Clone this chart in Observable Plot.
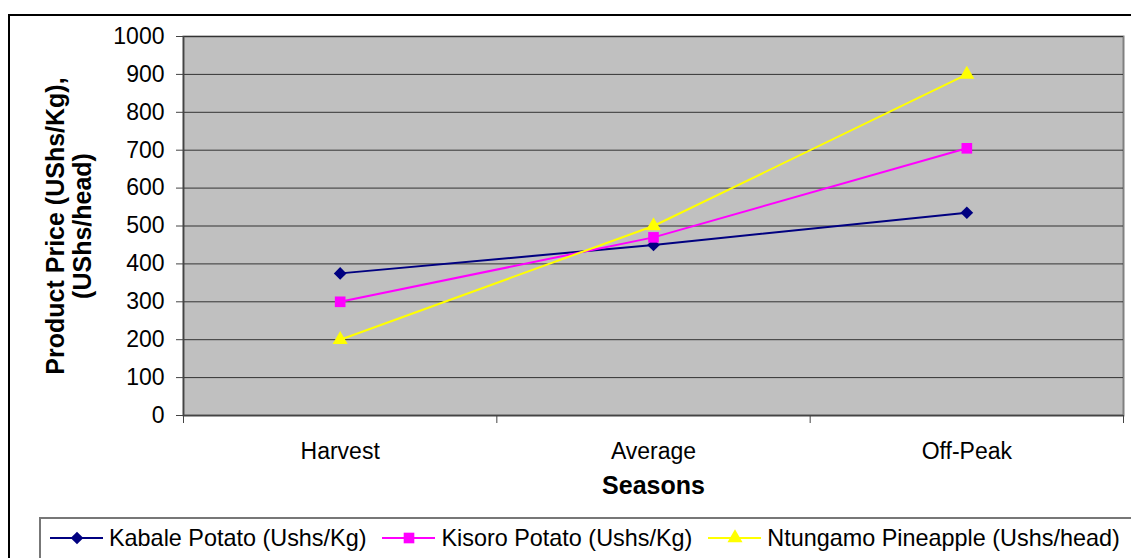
<!DOCTYPE html>
<html>
<head>
<meta charset="utf-8">
<script src="https://cdn.jsdelivr.net/npm/d3@7"></script>
<script src="https://cdn.jsdelivr.net/npm/@observablehq/plot@0.6"></script>
<style>
  html, body { margin: 0; padding: 0; background: #fff; }
  #wrap { position: relative; width: 1131px; height: 558px; overflow: hidden; background: #fff; font-family: "Liberation Sans", Arial, sans-serif; }
  #frame { position: absolute; left: 8px; top: 14px; width: 1200px; height: 600px; border: 2.5px solid #000; }
  #chart { position: absolute; left: 0; top: 0; }
  #legend { position: absolute; left: 39px; top: 517px; width: 1200px; height: 60px; box-sizing: border-box; border: 2px solid #777; background: #fff; font-size: 23.4px; color: #000; display: flex; align-items: flex-start; padding-left: 9px; padding-top: 2px; }
  .item { display: flex; align-items: center; height: 34px; margin-right: 16px; white-space: nowrap; }
  .item svg { margin-right: 6px; }
</style>
</head>
<body>
<div id="wrap">
  <div id="frame"></div>
  <div id="chart"></div>
  <div id="legend"></div>
</div>
<script>
const categories = ["Harvest", "Average", "Off-Peak"];
const seriesNames = ["Kabale Potato (Ushs/Kg)", "Kisoro Potato (Ushs/Kg)", "Ntungamo Pineapple (Ushs/head)"];
const kabale = [375, 450, 535];
const kisoro = [300, 470, 705];
const ntungamo = [200, 500, 900];
const seriesColors = ["#000080", "#FF00FF", "#FFFF00"];
const seriesSymbols = ["diamond2", "square", "triangle"];
const seriesR = [5.7, 6, 5.6];
const yTicks = [0, 100, 200, 300, 400, 500, 600, 700, 800, 900, 1000];
const xTitle = "Seasons";
const yTitle = "Product Price (UShs/Kg),\n(UShs/head)";

const seriesValues = [kabale, kisoro, ntungamo];
const tables = seriesValues.map((vals, s) =>
  vals.map((v, i) => ({series: seriesNames[s], pos: i + 0.5, cat: categories[i], value: v}))
);
const centers = categories.map((c, i) => i + 0.5);
const boundaries = d3.range(categories.length + 1);

const marks = [
  Plot.frame({fill: "#C0C0C0", stroke: "#808080", strokeWidth: 2}),
  Plot.gridY(yTicks, {stroke: "#333", strokeOpacity: 1, strokeWidth: 1}),
  Plot.axisY(yTicks, {tickSize: 7, tickPadding: 12, stroke: "#444", fontSize: 23, tickFormat: d => String(d), label: null}),
  Plot.axisX(boundaries, {tickSize: 8, tickFormat: () => "", stroke: "#444", label: null}),
  Plot.axisX(centers, {tickSize: 0, tickPadding: 27, fontSize: 23, tickFormat: p => categories[Math.round(p - 0.5)], label: null}),
  Plot.ruleY([0], {stroke: "#444", strokeWidth: 1.5}),
  Plot.ruleX([0], {stroke: "#444", strokeWidth: 1.5})
];
tables.forEach((t, s) => {
  marks.push(Plot.line(t, {x: "pos", y: "value", stroke: seriesColors[s], strokeWidth: 2}));
});
tables.forEach((t, s) => {
  marks.push(Plot.dot(t, {x: "pos", y: "value", fill: seriesColors[s], stroke: "none", symbol: seriesSymbols[s], r: seriesR[s]}));
});
marks.push(Plot.text([xTitle], {frameAnchor: "bottom", dy: 70, lineAnchor: "middle", textAnchor: "middle", fontWeight: "bold", fontSize: 25}));
marks.push(Plot.text([yTitle], {frameAnchor: "left", dx: -115, rotate: -90, lineAnchor: "middle", textAnchor: "middle", fontWeight: "bold", fontSize: 25, lineHeight: 1.1}));

const chart = Plot.plot({
  width: 1131,
  height: 505,
  marginLeft: 183,
  marginRight: 8,
  marginTop: 36,
  marginBottom: 90,
  x: {domain: [0, categories.length], axis: null, label: null},
  y: {domain: [0, 1000], axis: null, label: null},
  style: {fontFamily: "'Liberation Sans', Arial, sans-serif", fontSize: "23px", background: "transparent", color: "#000", overflow: "visible"},
  marks
});
document.getElementById("chart").appendChild(chart);

// legend
const symbolMap = {diamond2: d3.symbolDiamond2, square: d3.symbolSquare, triangle: d3.symbolTriangle};
const legend = d3.select("#legend");
seriesNames.forEach((name, s) => {
  const item = legend.append("div").attr("class", "item");
  const svg = item.append("svg").attr("width", 53).attr("height", 20);
  svg.append("line").attr("x1", 0).attr("x2", 53).attr("y1", 10).attr("y2", 10)
    .attr("stroke", seriesColors[s]).attr("stroke-width", 2);
  svg.append("path")
    .attr("transform", "translate(27,10)")
    .attr("d", d3.symbol(symbolMap[seriesSymbols[s]], Math.PI * seriesR[s] * seriesR[s])())
    .attr("fill", seriesColors[s]);
  item.append("span").text(name);
});
</script>
</body>
</html>
